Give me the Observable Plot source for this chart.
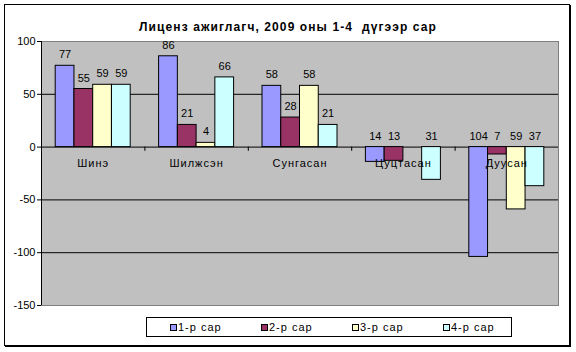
<!DOCTYPE html>
<html>
<head>
<meta charset="utf-8">
<script src="https://cdn.jsdelivr.net/npm/d3@7"></script>
<script src="https://cdn.jsdelivr.net/npm/@observablehq/plot@0.6"></script>
<style>
  body { margin: 0; background: #fff; }
  #wrap { position: relative; width: 576px; height: 352px; font-family: "Liberation Sans", Arial, sans-serif; overflow: hidden; }
  #border { position: absolute; left: 4px; top: 4px; width: 564px; height: 340px; border: 1px solid #000; box-shadow: 1px 1px 0 #000; }
  #title { position: absolute; left: 0; top: 21px; width: 576px; text-align: center; font-weight: bold; font-size: 12px; line-height: 12px; white-space: pre; letter-spacing: 1.1px; color: #000; }
  #chart { position: absolute; left: 0; top: 0; }
  #legend { position: absolute; left: 146px; top: 317px; width: 364px; height: 18px; border: 1px solid #000; background: #fff; }
  .item { position: absolute; top: 0; height: 18px; display: flex; align-items: center; font-size: 11px; letter-spacing: 1px; white-space: nowrap; }
  .sw { width: 5px; height: 5px; border: 1px solid #000; margin-right: 1px; }
</style>
</head>
<body>
<div id="wrap">
  <div id="border"></div>
  <div id="chart"></div>
  <div id="title"></div>
  <div id="legend"></div>
</div>
<script>
const titleText = "Лиценз ажиглагч, 2009 оны 1-4  дүгээр сар";
const categories = ["Шинэ", "Шилжсэн", "Сунгасан", "Цуцтасан", "Дуусан"];
const series = ["1-р сар", "2-р сар", "3-р сар", "4-р сар"];
const colors = ["#9999FF", "#993366", "#FFFFCC", "#CCFFFF"];
const month1 = [77, 86, 58, -14, -104];
const month2 = [55, 21, 28, -13, -7];
const month3 = [59, 4, 58, null, -59];
const month4 = [59, 66, 21, -31, -37];
const yTicks = [100, 50, 0, -50, -100, -150];

const seriesValues = [month1, month2, month3, month4];
const rows = [];
series.forEach((s, k) => {
  categories.forEach((c, i) => {
    const v = seriesValues[k][i];
    if (v !== null) rows.push({category: c, series: s, value: v});
  });
});

const W = 576, H = 352, mL = 41, mR = 18, mT = 41, mB = 47;
const bw = (W - mL - mR) / categories.length;
const groupW = 75;
const w = groupW / series.length;
const pad = (bw - groupW) / 2;

document.getElementById("title").textContent = titleText;

const marks = [
  Plot.frame({fill: "#C0C0C0", stroke: "#808080"}),
  Plot.ruleY(yTicks.filter(t => t < yTicks[0] && t > yTicks[yTicks.length - 1]), {stroke: "#000"}),
  Plot.ruleX([categories[0]], {dx: -bw / 2, stroke: "#000"}),
  Plot.ruleX(categories.slice(1), {dx: -bw / 2, y1: 0, y2: -4, stroke: "#000"})
];
series.forEach((s, k) => {
  const d = rows.filter(r => r.series === s);
  marks.push(Plot.barY(d, {
    x: "category", y: "value", fill: colors[k], stroke: "#000", strokeWidth: 1,
    insetLeft: pad + k * w, insetRight: pad + (series.length - 1 - k) * w
  }));
});
series.forEach((s, k) => {
  const d = rows.filter(r => r.series === s);
  marks.push(Plot.text(d, {
    x: "category", y: r => Math.max(0, r.value), text: r => String(Math.abs(r.value)),
    dx: pad + (k + 0.5) * w - bw / 2, dy: -11, fontSize: 11, fill: "#000"
  }));
});
marks.push(Plot.text(categories, {x: d => d, y: () => 0, text: d => d, dy: 16, fontSize: 11, fill: "#000"}));

const chart = Plot.plot({
  width: W, height: H,
  marginLeft: mL, marginRight: mR, marginTop: mT, marginBottom: mB,
  style: {fontFamily: "Liberation Sans, Arial, sans-serif", fontSize: "11px", background: "transparent", color: "#000", overflow: "visible"},
  x: {domain: categories, padding: 0, round: false, axis: null},
  y: {domain: [yTicks[yTicks.length - 1], yTicks[0]], ticks: yTicks, tickFormat: d => String(d), tickSize: 4, tickPadding: 2, label: null},
  marks
});
document.getElementById("chart").appendChild(chart);

d3.select(chart).selectAll("text")
  .filter(function() { return categories.includes(this.textContent); })
  .style("letter-spacing", "1px");

const legend = document.getElementById("legend");
series.forEach((s, k) => {
  const it = document.createElement("div");
  it.className = "item";
  it.style.left = (23 + k * 91) + "px";
  const sw = document.createElement("div");
  sw.className = "sw";
  sw.style.background = colors[k];
  const tx = document.createElement("span");
  tx.textContent = s;
  it.appendChild(sw);
  it.appendChild(tx);
  legend.appendChild(it);
});
</script>
</body>
</html>
